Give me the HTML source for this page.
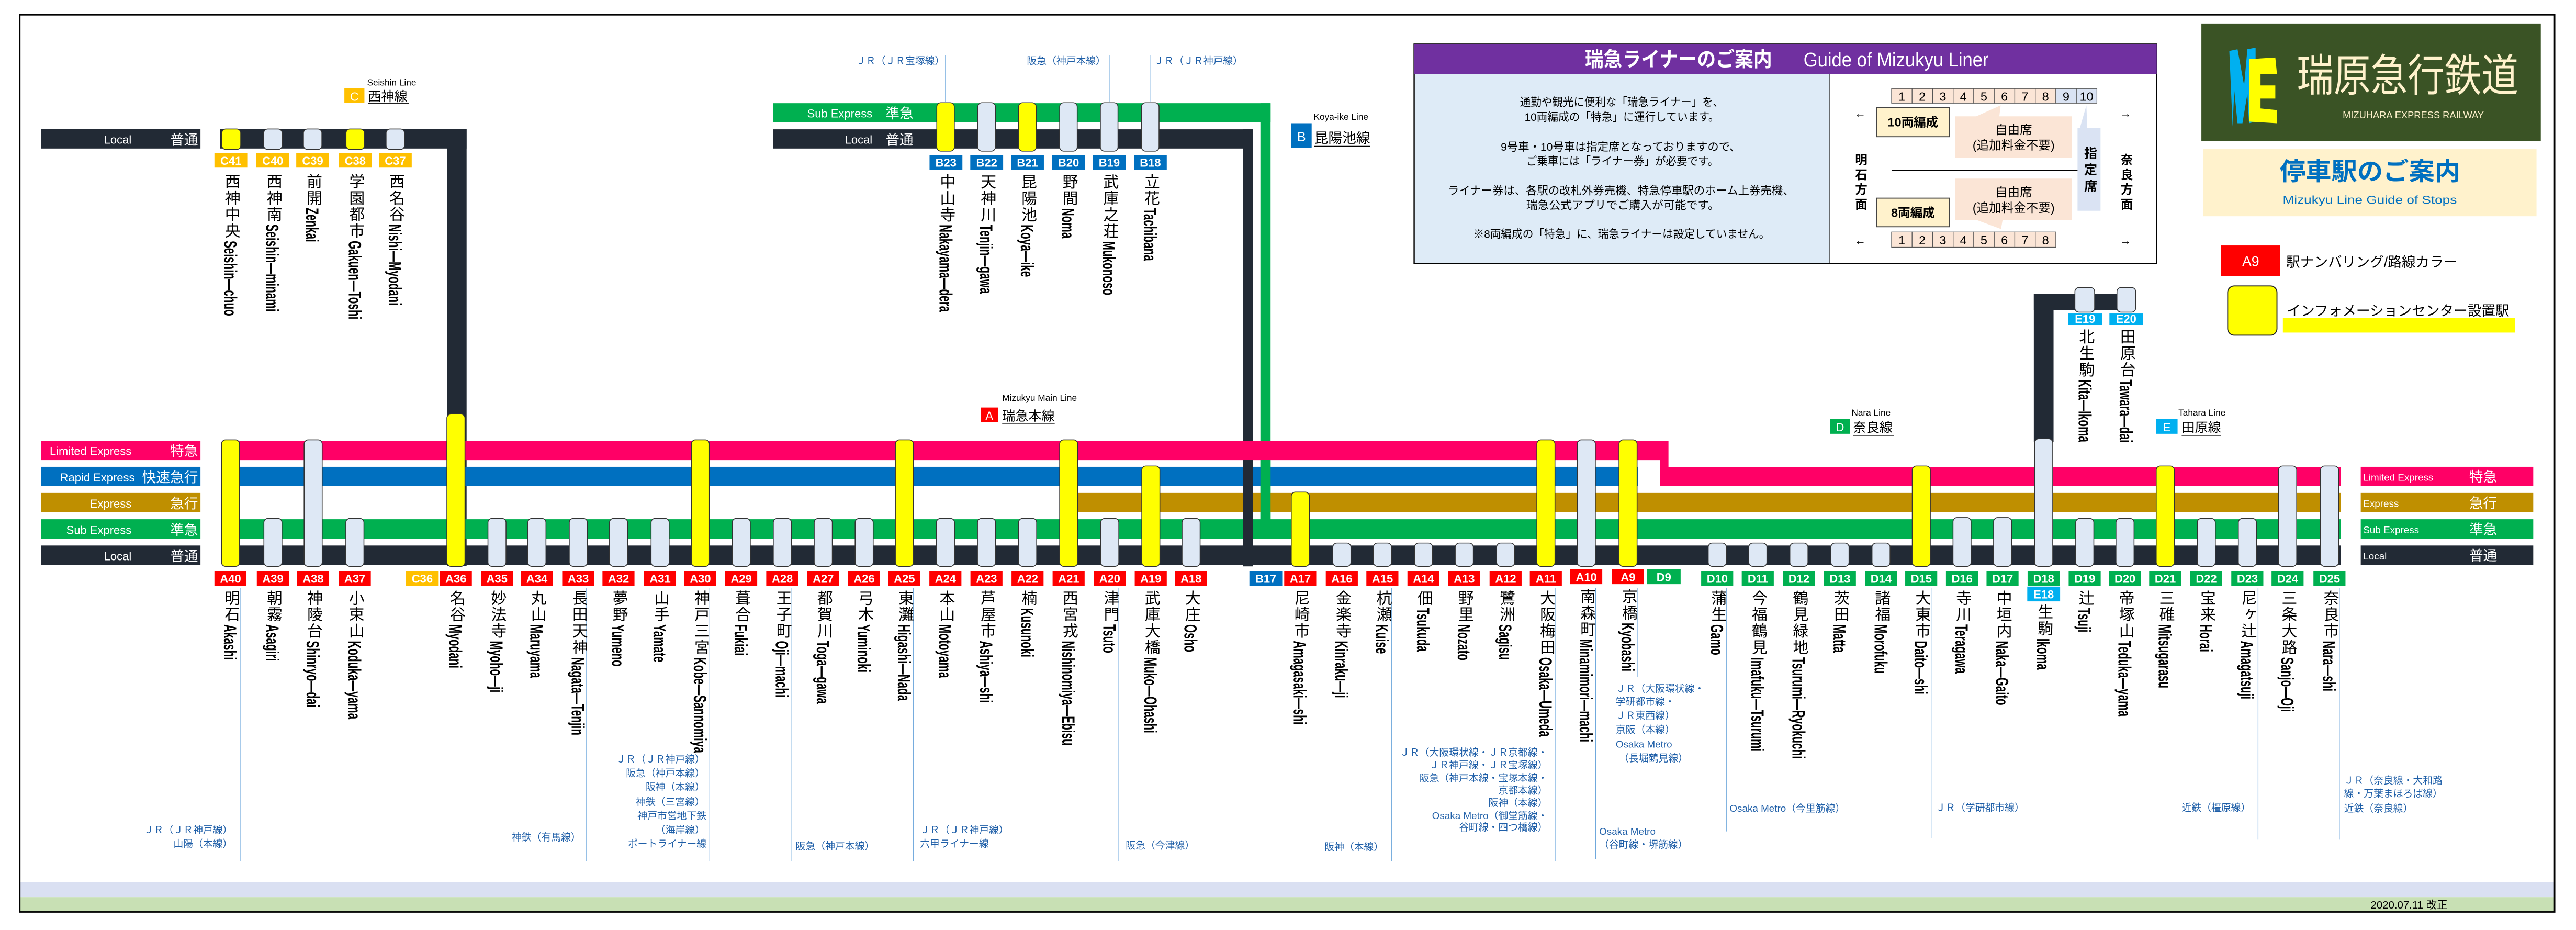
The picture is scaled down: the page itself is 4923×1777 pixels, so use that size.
<!DOCTYPE html>
<html><head><meta charset="utf-8"><style>
html,body{margin:0;padding:0;background:#fff;}
svg{display:block;}
text{font-family:"Liberation Sans","Noto Sans CJK JP",sans-serif;}
.jp{writing-mode:vertical-rl;font-size:9.5px;letter-spacing:0.5px;fill:#000;}
.en{font-size:11px;font-weight:bold;fill:#000;}
.num{font-size:7px;font-weight:bold;fill:#fff;text-anchor:middle;}
.tr{font-family:"Liberation Serif","Noto Serif CJK JP",serif;font-size:6px;fill:#1F5FA8;}
.trl{stroke:#6FA8DC;stroke-width:0.4;}
.pl{fill:#DEE8F5;stroke:#333;stroke-width:0.5;}
.py{fill:#FFFF00;stroke:#333;stroke-width:0.5;}
.lab{fill:#fff;font-size:7px;}
.labj{fill:#fff;font-size:8.5px;text-anchor:end;}
.body{font-size:6.8px;fill:#000;}
</style></head><body>
<svg width="4923" height="1777" viewBox="0 0 1568 566" xmlns="http://www.w3.org/2000/svg">
<rect x="0" y="0" width="1568" height="566" fill="#fff"/>
<!-- bottom bands -->
<rect x="12" y="537" width="1543" height="9" fill="#DAE0F2"/>
<rect x="12" y="546" width="1543" height="9" fill="#C8E0B4"/>
<rect x="12" y="9" width="1543" height="546" fill="none" stroke="#000" stroke-width="0.9"/>
<text x="1443" y="553" font-size="6.5" fill="#000">2020.07.11 改正</text>

<!-- ===== Seishin (C) line ===== -->
<rect x="25" y="78.6" width="97" height="11.8" fill="#222A35"/>
<text x="80" y="87.5" class="lab" text-anchor="end">Local</text>
<text x="120.5" y="88" class="labj">普通</text>
<rect x="134" y="78.6" width="150" height="11.8" fill="#222A35"/>
<rect x="272" y="78.6" width="12" height="266" fill="#222A35"/>
<text x="223.4" y="52" font-size="5.5">Seishin Line</text>
<rect x="209.6" y="53.8" width="12.2" height="8.9" fill="#FFC000"/>
<text x="215.7" y="61.3" font-size="7.5" fill="#fff" text-anchor="middle">C</text>
<text x="224" y="61.5" font-size="8">西神線</text>
<line x1="224" y1="63" x2="249" y2="63" stroke="#000" stroke-width="0.4"/>

<!-- ===== Koya-ike (B) line ===== -->
<rect x="470.7" y="62.8" width="86.9" height="11.7" fill="#00B050"/>
<text x="531" y="71.5" class="lab" text-anchor="end">Sub Express</text>
<text x="556" y="72" class="labj">準急</text>
<rect x="470.7" y="78.7" width="86.9" height="11.7" fill="#222A35"/>
<text x="531" y="87.5" class="lab" text-anchor="end">Local</text>
<text x="556" y="88" class="labj">普通</text>
<rect x="557.6" y="62.8" width="215.8" height="11.7" fill="#00B050"/>
<rect x="767.2" y="62.8" width="6.2" height="265" fill="#00B050"/>
<rect x="557.6" y="78.7" width="205.1" height="11.7" fill="#222A35"/>
<rect x="756.7" y="78.7" width="6" height="266" fill="#222A35"/>
<text x="799.6" y="73" font-size="5.5">Koya-ike Line</text>
<rect x="786" y="75" width="12.4" height="15" fill="#0070C0"/>
<text x="792.2" y="86" font-size="8" fill="#fff" text-anchor="middle">B</text>
<text x="800" y="87" font-size="8.5">昆陽池線</text>
<line x1="800" y1="89" x2="834" y2="89" stroke="#000" stroke-width="0.4"/>

<!-- ===== E line ===== -->
<rect x="1238" y="179" width="12" height="90" fill="#222A35"/>
<rect x="1238" y="179" width="61" height="9.6" fill="#222A35"/>

<!-- ===== main bands ===== -->
<rect x="25" y="268.2" width="97" height="11.8" fill="#FF0066"/>
<text x="80" y="277" class="lab" text-anchor="end">Limited Express</text>
<text x="120.5" y="277.5" class="labj">特急</text>
<rect x="25" y="284.1" width="97" height="11.8" fill="#0070C0"/>
<text x="82" y="293" class="lab" text-anchor="end">Rapid Express</text>
<text x="120.5" y="293.5" class="labj">快速急行</text>
<rect x="25" y="300" width="97" height="11.8" fill="#BF8F00"/>
<text x="80" y="309" class="lab" text-anchor="end">Express</text>
<text x="120.5" y="309.5" class="labj">急行</text>
<rect x="25" y="316" width="97" height="11.8" fill="#00B050"/>
<text x="80" y="325" class="lab" text-anchor="end">Sub Express</text>
<text x="120.5" y="325.5" class="labj">準急</text>
<rect x="25" y="332" width="97" height="11.8" fill="#222A35"/>
<text x="80" y="341" class="lab" text-anchor="end">Local</text>
<text x="120.5" y="341.5" class="labj">普通</text>

<rect x="135" y="284.1" width="862" height="11.8" fill="#0070C0"/>
<rect x="655" y="300" width="770" height="11.8" fill="#BF8F00"/>
<rect x="135" y="316" width="1290" height="11.8" fill="#00B050"/>
<rect x="135" y="332" width="1290" height="11.8" fill="#222A35"/>
<polygon points="135,268.2 1015.6,268.2 1015.6,284.1 1425,284.1 1425,295.9 1010.4,295.9 1010.4,280 135,280" fill="#FF0066"/>
<!-- B verticals over lower bands -->
<rect x="756.7" y="280" width="6" height="64" fill="#222A35"/>
<rect x="767.2" y="280" width="6.2" height="48" fill="#00B050"/>
<rect x="760" y="284.1" width="0" height="0"/>

<!-- right labels -->
<rect x="1437" y="284.1" width="105" height="11.8" fill="#FF0066"/>
<text x="1438.5" y="292.5" font-size="6" fill="#fff">Limited Express</text>
<text x="1520" y="293.2" class="labj">特急</text>
<rect x="1437" y="300" width="105" height="11.8" fill="#BF8F00"/>
<text x="1438.5" y="308.5" font-size="6" fill="#fff">Express</text>
<text x="1520" y="309.2" class="labj">急行</text>
<rect x="1437" y="316" width="105" height="11.8" fill="#00B050"/>
<text x="1438.5" y="324.5" font-size="6" fill="#fff">Sub Express</text>
<text x="1520" y="325.2" class="labj">準急</text>
<rect x="1437" y="332" width="105" height="11.8" fill="#222A35"/>
<text x="1438.5" y="340.5" font-size="6" fill="#fff">Local</text>
<text x="1520" y="341.2" class="labj">普通</text>

<!-- line labels A, D, E -->
<text x="610" y="244" font-size="5.5">Mizukyu Main Line</text>
<rect x="597" y="248" width="10.5" height="9" fill="#FF0000"/>
<text x="602.2" y="255.5" font-size="7" fill="#fff" text-anchor="middle">A</text>
<text x="610" y="256" font-size="8">瑞急本線</text>
<line x1="610" y1="258" x2="642" y2="258" stroke="#000" stroke-width="0.4"/>
<text x="1127" y="253" font-size="5.5">Nara Line</text>
<rect x="1114" y="255" width="12" height="9" fill="#00B050"/>
<text x="1120" y="262.5" font-size="7" fill="#fff" text-anchor="middle">D</text>
<text x="1128" y="263" font-size="8">奈良線</text>
<line x1="1128" y1="265" x2="1153" y2="265" stroke="#000" stroke-width="0.4"/>
<text x="1326" y="253" font-size="5.5">Tahara Line</text>
<rect x="1312.5" y="255" width="13" height="9" fill="#00B0F0"/>
<text x="1319" y="262.5" font-size="7" fill="#fff" text-anchor="middle">E</text>
<text x="1328" y="263" font-size="8">田原線</text>
<line x1="1328" y1="265" x2="1352" y2="265" stroke="#000" stroke-width="0.4"/>

<!-- ===== transfer lines ===== -->
<g class="trl">
<line x1="146.5" y1="358" x2="146.5" y2="524"/>
<line x1="357" y1="358" x2="357" y2="524"/>
<line x1="432" y1="358" x2="432" y2="524"/>
<line x1="481.5" y1="358" x2="481.5" y2="524"/>
<line x1="556" y1="358" x2="556" y2="524"/>
<line x1="681" y1="358" x2="681" y2="524"/>
<line x1="847" y1="358" x2="847" y2="524"/>
<line x1="946.6" y1="358" x2="946.6" y2="524"/>
<line x1="971.3" y1="358" x2="971.3" y2="523"/>
<line x1="996.6" y1="358" x2="996.6" y2="412"/>
<line x1="1051" y1="358" x2="1051" y2="506"/>
<line x1="1175.5" y1="358" x2="1175.5" y2="510"/>
<line x1="1374.5" y1="358" x2="1374.5" y2="511"/>
<line x1="1424" y1="358" x2="1424" y2="511"/>
<line x1="575.5" y1="33.5" x2="575.5" y2="62"/>
<line x1="675.2" y1="33.5" x2="675.2" y2="62"/>
<line x1="700" y1="33.5" x2="700" y2="62"/>
</g>

<!-- ===== transfer texts ===== -->
<g class="tr">
<text x="575" y="39" text-anchor="end">ＪＲ（ＪＲ宝塚線）</text>
<text x="673" y="39" text-anchor="end">阪急（神戸本線）</text>
<text x="702.5" y="39">ＪＲ（ＪＲ神戸線）</text>
<text x="141.5" y="507" text-anchor="end">ＪＲ（ＪＲ神戸線）</text>
<text x="141.5" y="515.5" text-anchor="end">山陽（本線）</text>
<text x="353.5" y="511.5" text-anchor="end">神鉄（有馬線）</text>
<g text-anchor="end">
<text x="429" y="464">ＪＲ（ＪＲ神戸線）</text>
<text x="429" y="472.5">阪急（神戸本線）</text>
<text x="429" y="481">阪神（本線）</text>
<text x="429" y="490">神鉄（三宮線）</text>
<text x="430" y="498.5">神戸市営地下鉄</text>
<text x="429" y="507">（海岸線）</text>
<text x="430" y="515.5">ポートライナー線</text>
</g>
<text x="484.3" y="517">阪急（神戸本線）</text>
<text x="560" y="507">ＪＲ（ＪＲ神戸線）</text>
<text x="560" y="515.5">六甲ライナー線</text>
<text x="685.2" y="516.5">阪急（今津線）</text>
<text x="842.2" y="517.5" text-anchor="end">阪神（本線）</text>
<g text-anchor="end">
<text x="942" y="460">ＪＲ（大阪環状線・ＪＲ京都線・</text>
<text x="942" y="467.5">ＪＲ神戸線・ＪＲ宝塚線）</text>
<text x="942" y="475.5">阪急（神戸本線・宝塚本線・</text>
<text x="942" y="483">京都本線）</text>
<text x="942" y="490.5">阪神（本線）</text>
<text x="942" y="498.5">Osaka Metro（御堂筋線・</text>
<text x="942" y="505.5">谷町線・四つ橋線）</text>
</g>
<text x="973.4" y="508">Osaka Metro</text>
<text x="973.4" y="516">（谷町線・堺筋線）</text>
<text x="983.5" y="421">ＪＲ（大阪環状線・</text>
<text x="983.5" y="429">学研都市線・</text>
<text x="983.5" y="437.5">ＪＲ東西線）</text>
<text x="983.5" y="446">京阪（本線）</text>
<text x="983.5" y="455">Osaka Metro</text>
<text x="985.5" y="463.5">（長堀鶴見線）</text>
<text x="1052.8" y="494">Osaka Metro（今里筋線）</text>
<text x="1178.3" y="493.5">ＪＲ（学研都市線）</text>
<text x="1370" y="493.5" text-anchor="end">近鉄（橿原線）</text>
<text x="1426.8" y="477">ＪＲ（奈良線・大和路</text>
<text x="1426.8" y="485">線・万葉まほろば線）</text>
<text x="1426.8" y="494">近鉄（奈良線）</text>
</g>

<!-- ===== pills ===== -->
<!-- C line -->
<rect class="py" x="135" y="78.5" width="11.5" height="12.5" rx="2.5"/>
<rect class="pl" x="160.5" y="78.5" width="11.2" height="12.5" rx="2.5"/>
<rect class="pl" x="184.7" y="78.5" width="11.2" height="12.5" rx="2.5"/>
<rect class="py" x="210.6" y="78.5" width="11.2" height="12.5" rx="2.5"/>
<rect class="pl" x="235" y="78.5" width="11.2" height="12.5" rx="2.5"/>
<!-- B line -->
<rect class="py" x="570.2" y="62.5" width="10.7" height="29.5" rx="2.5"/>
<rect class="pl" x="595.2" y="62.5" width="10.7" height="29.5" rx="2.5"/>
<rect class="py" x="620" y="62.5" width="10.7" height="29.5" rx="2.5"/>
<rect class="pl" x="645" y="62.5" width="10.7" height="29.5" rx="2.5"/>
<rect class="pl" x="669.8" y="62.5" width="10.7" height="29.5" rx="2.5"/>
<rect class="pl" x="694.8" y="62.5" width="10.7" height="29.5" rx="2.5"/>
<!-- E line -->
<rect class="pl" x="1263" y="175" width="12" height="15" rx="2.5"/>
<rect class="pl" x="1288.6" y="175" width="11.4" height="15" rx="2.5"/>
<!-- main -->
<rect class="py" x="134.8" y="267.7" width="11" height="77" rx="2.5"/>
<rect class="pl" x="160.6" y="315.5" width="11" height="29.2" rx="2.5"/>
<rect class="pl" x="185.1" y="267.7" width="11" height="77" rx="2.5"/>
<rect class="pl" x="210.5" y="315.5" width="11" height="29.2" rx="2.5"/>
<rect class="py" x="272" y="252" width="11" height="92.7" rx="2.5"/>
<rect class="pl" x="297" y="315.5" width="11" height="29.2" rx="2.5"/>
<rect class="pl" x="321.3" y="315.5" width="11" height="29.2" rx="2.5"/>
<rect class="pl" x="346.5" y="315.5" width="11" height="29.2" rx="2.5"/>
<rect class="pl" x="371" y="315.5" width="11" height="29.2" rx="2.5"/>
<rect class="pl" x="396.3" y="315.5" width="11" height="29.2" rx="2.5"/>
<rect class="py" x="420.8" y="267.7" width="11" height="77" rx="2.5"/>
<rect class="pl" x="445.7" y="315.5" width="11" height="29.2" rx="2.5"/>
<rect class="pl" x="470.7" y="315.5" width="11" height="29.2" rx="2.5"/>
<rect class="pl" x="495.6" y="315.5" width="11" height="29.2" rx="2.5"/>
<rect class="pl" x="520.5" y="315.5" width="11" height="29.2" rx="2.5"/>
<rect class="py" x="545" y="267.7" width="11" height="77" rx="2.5"/>
<rect class="pl" x="570" y="315.5" width="11" height="29.2" rx="2.5"/>
<rect class="pl" x="595" y="315.5" width="11" height="29.2" rx="2.5"/>
<rect class="pl" x="620" y="315.5" width="11" height="29.2" rx="2.5"/>
<rect class="py" x="645" y="267.7" width="11" height="77" rx="2.5"/>
<rect class="pl" x="670" y="315.5" width="11" height="29.2" rx="2.5"/>
<rect class="py" x="695" y="283.6" width="11" height="61.1" rx="2.5"/>
<rect class="pl" x="719.5" y="315.5" width="11" height="29.2" rx="2.5"/>
<rect class="py" x="786" y="299.5" width="11" height="45.2" rx="2.5"/>
<rect class="pl" x="811.3" y="330.5" width="11" height="14.2" rx="2.5"/>
<rect class="pl" x="836" y="330.5" width="11" height="14.2" rx="2.5"/>
<rect class="pl" x="861" y="330.5" width="11" height="14.2" rx="2.5"/>
<rect class="pl" x="885.8" y="330.5" width="11" height="14.2" rx="2.5"/>
<rect class="pl" x="911" y="330.5" width="11" height="14.2" rx="2.5"/>
<rect class="py" x="935.5" y="267.7" width="11" height="77" rx="2.5"/>
<rect class="pl" x="960.1" y="267.7" width="11" height="77" rx="2.5"/>
<rect class="py" x="985.5" y="267.7" width="11" height="77" rx="2.5"/>
<rect class="pl" x="1039.8" y="330.5" width="11" height="14.2" rx="2.5"/>
<rect class="pl" x="1064.5" y="330.5" width="11" height="14.2" rx="2.5"/>
<rect class="pl" x="1089.5" y="330.5" width="11" height="14.2" rx="2.5"/>
<rect class="pl" x="1114.5" y="330.5" width="11" height="14.2" rx="2.5"/>
<rect class="pl" x="1139.5" y="330.5" width="11" height="14.2" rx="2.5"/>
<rect class="py" x="1164" y="283.6" width="11" height="61.1" rx="2.5"/>
<rect class="pl" x="1188.8" y="315" width="11" height="29.7" rx="2.5"/>
<rect class="pl" x="1213.5" y="315" width="11" height="29.7" rx="2.5"/>
<rect class="pl" x="1238.5" y="267" width="11" height="77.7" rx="2.5"/>
<rect class="pl" x="1263.5" y="315.5" width="11" height="29.2" rx="2.5"/>
<rect class="pl" x="1288" y="315.5" width="11" height="29.2" rx="2.5"/>
<rect class="py" x="1312.5" y="283.6" width="11" height="61.1" rx="2.5"/>
<rect class="pl" x="1337.5" y="315.5" width="11" height="29.2" rx="2.5"/>
<rect class="pl" x="1362.5" y="315.5" width="11" height="29.2" rx="2.5"/>
<rect class="pl" x="1387" y="283.6" width="11" height="61.1" rx="2.5"/>
<rect class="pl" x="1412.5" y="283.6" width="11" height="61.1" rx="2.5"/>

<!-- ===== number boxes ===== -->
<g>
<!-- C -->
<rect x="130.5" y="93.3" width="20" height="8.7" fill="#FFC000"/><text class="num" x="140.5" y="100.3">C41</text>
<rect x="156" y="93.3" width="20" height="8.7" fill="#FFC000"/><text class="num" x="166" y="100.3">C40</text>
<rect x="180.3" y="93.3" width="20" height="8.7" fill="#FFC000"/><text class="num" x="190.3" y="100.3">C39</text>
<rect x="206.2" y="93.3" width="20" height="8.7" fill="#FFC000"/><text class="num" x="216.2" y="100.3">C38</text>
<rect x="230.6" y="93.3" width="20" height="8.7" fill="#FFC000"/><text class="num" x="240.6" y="100.3">C37</text>
<!-- B -->
<rect x="565.8" y="94.3" width="20" height="8.9" fill="#0070C0"/><text class="num" x="575.8" y="101.5">B23</text>
<rect x="590.6" y="94.3" width="20" height="8.9" fill="#0070C0"/><text class="num" x="600.6" y="101.5">B22</text>
<rect x="615.4" y="94.3" width="20" height="8.9" fill="#0070C0"/><text class="num" x="625.4" y="101.5">B21</text>
<rect x="640.4" y="94.3" width="20" height="8.9" fill="#0070C0"/><text class="num" x="650.4" y="101.5">B20</text>
<rect x="665.2" y="94.3" width="20" height="8.9" fill="#0070C0"/><text class="num" x="675.2" y="101.5">B19</text>
<rect x="690.2" y="94.3" width="20" height="8.9" fill="#0070C0"/><text class="num" x="700.2" y="101.5">B18</text>
<!-- E -->
<rect x="1259" y="190.8" width="20.5" height="7" fill="#00B0F0"/><text class="num" x="1269.2" y="196.6" font-size="6">E19</text>
<rect x="1284" y="190.8" width="20.5" height="7" fill="#00B0F0"/><text class="num" x="1294.2" y="196.6" font-size="6">E20</text>
<rect x="1234" y="357" width="20" height="9" fill="#00B0F0"/><text class="num" x="1244" y="364.3">E18</text>
</g>
<g>
<rect x="130.5" y="347.5" width="19.5" height="9" fill="#FF0000"/><text class="num" x="140.3" y="354.7">A40</text>
<rect x="156.3" y="347.5" width="19.5" height="9" fill="#FF0000"/><text class="num" x="166.1" y="354.7">A39</text>
<rect x="180.8" y="347.5" width="19.5" height="9" fill="#FF0000"/><text class="num" x="190.6" y="354.7">A38</text>
<rect x="206.2" y="347.5" width="19.5" height="9" fill="#FF0000"/><text class="num" x="216" y="354.7">A37</text>
<rect x="247" y="347.5" width="20" height="9" fill="#FFC000"/><text class="num" x="257" y="354.7">C36</text>
<rect x="267.7" y="347.5" width="19.5" height="9" fill="#FF0000"/><text class="num" x="277.5" y="354.7">A36</text>
<rect x="292.7" y="347.5" width="19.5" height="9" fill="#FF0000"/><text class="num" x="302.5" y="354.7">A35</text>
<rect x="317" y="347.5" width="19.5" height="9" fill="#FF0000"/><text class="num" x="326.8" y="354.7">A34</text>
<rect x="342.2" y="347.5" width="19.5" height="9" fill="#FF0000"/><text class="num" x="352" y="354.7">A33</text>
<rect x="366.7" y="347.5" width="19.5" height="9" fill="#FF0000"/><text class="num" x="376.5" y="354.7">A32</text>
<rect x="392" y="347.5" width="19.5" height="9" fill="#FF0000"/><text class="num" x="401.8" y="354.7">A31</text>
<rect x="416.5" y="347.5" width="19.5" height="9" fill="#FF0000"/><text class="num" x="426.3" y="354.7">A30</text>
<rect x="441.4" y="347.5" width="19.5" height="9" fill="#FF0000"/><text class="num" x="451.2" y="354.7">A29</text>
<rect x="466.4" y="347.5" width="19.5" height="9" fill="#FF0000"/><text class="num" x="476.2" y="354.7">A28</text>
<rect x="491.3" y="347.5" width="19.5" height="9" fill="#FF0000"/><text class="num" x="501.1" y="354.7">A27</text>
<rect x="516.2" y="347.5" width="19.5" height="9" fill="#FF0000"/><text class="num" x="526" y="354.7">A26</text>
<rect x="540.7" y="347.5" width="19.5" height="9" fill="#FF0000"/><text class="num" x="550.5" y="354.7">A25</text>
<rect x="565.7" y="347.5" width="19.5" height="9" fill="#FF0000"/><text class="num" x="575.5" y="354.7">A24</text>
<rect x="590.7" y="347.5" width="19.5" height="9" fill="#FF0000"/><text class="num" x="600.5" y="354.7">A23</text>
<rect x="615.7" y="347.5" width="19.5" height="9" fill="#FF0000"/><text class="num" x="625.5" y="354.7">A22</text>
<rect x="640.7" y="347.5" width="19.5" height="9" fill="#FF0000"/><text class="num" x="650.5" y="354.7">A21</text>
<rect x="665.7" y="347.5" width="19.5" height="9" fill="#FF0000"/><text class="num" x="675.5" y="354.7">A20</text>
<rect x="690.7" y="347.5" width="19.5" height="9" fill="#FF0000"/><text class="num" x="700.5" y="354.7">A19</text>
<rect x="715.2" y="347.5" width="19.5" height="9" fill="#FF0000"/><text class="num" x="725" y="354.7">A18</text>
<rect x="760.5" y="347.5" width="20" height="9" fill="#0070C0"/><text class="num" x="770.5" y="354.7">B17</text>
<rect x="781.7" y="347.5" width="19.5" height="9" fill="#FF0000"/><text class="num" x="791.5" y="354.7">A17</text>
<rect x="807" y="347.5" width="19.5" height="9" fill="#FF0000"/><text class="num" x="816.8" y="354.7">A16</text>
<rect x="831.7" y="347.5" width="19.5" height="9" fill="#FF0000"/><text class="num" x="841.5" y="354.7">A15</text>
<rect x="856.7" y="347.5" width="19.5" height="9" fill="#FF0000"/><text class="num" x="866.5" y="354.7">A14</text>
<rect x="881.5" y="347.5" width="19.5" height="9" fill="#FF0000"/><text class="num" x="891.3" y="354.7">A13</text>
<rect x="906.7" y="347.5" width="19.5" height="9" fill="#FF0000"/><text class="num" x="916.5" y="354.7">A12</text>
<rect x="931.2" y="347.5" width="19.5" height="9" fill="#FF0000"/><text class="num" x="941" y="354.7">A11</text>
<rect x="955.8" y="346.5" width="19.5" height="9" fill="#FF0000"/><text class="num" x="965.6" y="353.7">A10</text>
<rect x="981.2" y="346.5" width="19.5" height="9" fill="#FF0000"/><text class="num" x="991" y="353.7">A9</text>
<rect x="1002.6" y="346.5" width="20.4" height="9" fill="#00B050"/><text class="num" x="1012.8" y="353.7">D9</text>
<rect x="1035.5" y="347.5" width="19.5" height="9" fill="#00B050"/><text class="num" x="1045.3" y="354.7">D10</text>
<rect x="1060.2" y="347.5" width="19.5" height="9" fill="#00B050"/><text class="num" x="1070" y="354.7">D11</text>
<rect x="1085.2" y="347.5" width="19.5" height="9" fill="#00B050"/><text class="num" x="1095" y="354.7">D12</text>
<rect x="1110.2" y="347.5" width="19.5" height="9" fill="#00B050"/><text class="num" x="1120" y="354.7">D13</text>
<rect x="1135.2" y="347.5" width="19.5" height="9" fill="#00B050"/><text class="num" x="1145" y="354.7">D14</text>
<rect x="1159.7" y="347.5" width="19.5" height="9" fill="#00B050"/><text class="num" x="1169.5" y="354.7">D15</text>
<rect x="1184.5" y="347.5" width="19.5" height="9" fill="#00B050"/><text class="num" x="1194.3" y="354.7">D16</text>
<rect x="1209.2" y="347.5" width="19.5" height="9" fill="#00B050"/><text class="num" x="1219" y="354.7">D17</text>
<rect x="1234.2" y="347.5" width="19.5" height="9" fill="#00B050"/><text class="num" x="1244" y="354.7">D18</text>
<rect x="1259.2" y="347.5" width="19.5" height="9" fill="#00B050"/><text class="num" x="1269" y="354.7">D19</text>
<rect x="1283.7" y="347.5" width="19.5" height="9" fill="#00B050"/><text class="num" x="1293.5" y="354.7">D20</text>
<rect x="1308.2" y="347.5" width="19.5" height="9" fill="#00B050"/><text class="num" x="1318" y="354.7">D21</text>
<rect x="1333.2" y="347.5" width="19.5" height="9" fill="#00B050"/><text class="num" x="1343" y="354.7">D22</text>
<rect x="1358.2" y="347.5" width="19.5" height="9" fill="#00B050"/><text class="num" x="1368" y="354.7">D23</text>
<rect x="1382.7" y="347.5" width="19.5" height="9" fill="#00B050"/><text class="num" x="1392.5" y="354.7">D24</text>
<rect x="1408.2" y="347.5" width="19.5" height="9" fill="#00B050"/><text class="num" x="1418" y="354.7">D25</text>
</g>

<!-- ===== station names ===== -->
<!-- C line -->
<text class="jp" x="140.5" y="105.5">西神中央</text><text class="en" transform="translate(136.5,146.5) rotate(90) scale(0.6,1)">Seishin—chuo</text>
<text class="jp" x="166" y="105.5">西神南</text><text class="en" transform="translate(162,136.5) rotate(90) scale(0.6,1)">Seishin—minami</text>
<text class="jp" x="190.3" y="105.5">前開</text><text class="en" transform="translate(186.3,126.5) rotate(90) scale(0.6,1)">Zenkai</text>
<text class="jp" x="216.2" y="105.5">学園都市</text><text class="en" transform="translate(212.2,146.5) rotate(90) scale(0.6,1)">Gakuen—Toshi</text>
<text class="jp" x="240.6" y="105.5">西名谷</text><text class="en" transform="translate(236.6,136.5) rotate(90) scale(0.6,1)">Nishi—Myodani</text>
<!-- B line -->
<text class="jp" x="575.8" y="105.7">中山寺</text><text class="en" transform="translate(571.8,136.7) rotate(90) scale(0.6,1)">Nakayama—dera</text>
<text class="jp" x="600.6" y="105.7">天神川</text><text class="en" transform="translate(596.6,136.7) rotate(90) scale(0.6,1)">Tenjin—gawa</text>
<text class="jp" x="625.4" y="105.7">昆陽池</text><text class="en" transform="translate(621.4,136.7) rotate(90) scale(0.6,1)">Koya—ike</text>
<text class="jp" x="650.4" y="105.7">野間</text><text class="en" transform="translate(646.4,126.7) rotate(90) scale(0.6,1)">Noma</text>
<text class="jp" x="675.2" y="105.7">武庫之荘</text><text class="en" transform="translate(671.2,146.7) rotate(90) scale(0.6,1)">Mukonoso</text>
<text class="jp" x="700.2" y="105.7">立花</text><text class="en" transform="translate(696.2,126.7) rotate(90) scale(0.6,1)">Tachibana</text>
<!-- E line -->
<text class="jp" x="1269.2" y="200">北生駒</text><text class="en" transform="translate(1265.2,231) rotate(90) scale(0.6,1)">Kita—Ikoma</text>
<text class="jp" x="1294.2" y="200">田原台</text><text class="en" transform="translate(1290.2,231) rotate(90) scale(0.6,1)">Tawara—dai</text>
<!-- main -->
<text class="jp" x="140.3" y="359">明石</text><text class="en" transform="translate(136.3,380) rotate(90) scale(0.6,1)">Akashi</text>
<text class="jp" x="166.1" y="359">朝霧</text><text class="en" transform="translate(162.1,380) rotate(90) scale(0.6,1)">Asagiri</text>
<text class="jp" x="190.6" y="359">神陵台</text><text class="en" transform="translate(186.6,390) rotate(90) scale(0.6,1)">Shinryo—dai</text>
<text class="jp" x="216" y="359">小束山</text><text class="en" transform="translate(212,390) rotate(90) scale(0.6,1)">Koduka—yama</text>
<text class="jp" x="277.5" y="359">名谷</text><text class="en" transform="translate(273.5,380) rotate(90) scale(0.6,1)">Myodani</text>
<text class="jp" x="302.5" y="359">妙法寺</text><text class="en" transform="translate(298.5,390) rotate(90) scale(0.6,1)">Myoho—ji</text>
<text class="jp" x="326.8" y="359">丸山</text><text class="en" transform="translate(322.8,380) rotate(90) scale(0.6,1)">Maruyama</text>
<text class="jp" x="352" y="359">長田天神</text><text class="en" transform="translate(348,400) rotate(90) scale(0.6,1)">Nagata—Tenjin</text>
<text class="jp" x="376.5" y="359">夢野</text><text class="en" transform="translate(372.5,380) rotate(90) scale(0.6,1)">Yumeno</text>
<text class="jp" x="401.8" y="359">山手</text><text class="en" transform="translate(397.8,380) rotate(90) scale(0.6,1)">Yamate</text>
<text class="jp" x="426.3" y="359">神戸三宮</text><text class="en" transform="translate(422.3,400) rotate(90) scale(0.6,1)">Kobe—Sannomiya</text>
<text class="jp" x="451.2" y="359">葺合</text><text class="en" transform="translate(447.2,380) rotate(90) scale(0.6,1)">Fukiai</text>
<text class="jp" x="476.2" y="359">王子町</text><text class="en" transform="translate(472.2,390) rotate(90) scale(0.6,1)">Oji—machi</text>
<text class="jp" x="501.1" y="359">都賀川</text><text class="en" transform="translate(497.1,390) rotate(90) scale(0.6,1)">Toga—gawa</text>
<text class="jp" x="526" y="359">弓木</text><text class="en" transform="translate(522,380) rotate(90) scale(0.6,1)">Yuminoki</text>
<text class="jp" x="550.5" y="359">東灘</text><text class="en" transform="translate(546.5,380) rotate(90) scale(0.6,1)">Higashi—Nada</text>
<text class="jp" x="575.5" y="359">本山</text><text class="en" transform="translate(571.5,380) rotate(90) scale(0.6,1)">Motoyama</text>
<text class="jp" x="600.5" y="359">芦屋市</text><text class="en" transform="translate(596.5,390) rotate(90) scale(0.6,1)">Ashiya—shi</text>
<text class="jp" x="625.5" y="359">楠</text><text class="en" transform="translate(621.5,370) rotate(90) scale(0.6,1)">Kusunoki</text>
<text class="jp" x="650.5" y="359">西宮戎</text><text class="en" transform="translate(646.5,390) rotate(90) scale(0.6,1)">Nishinomiya—Ebisu</text>
<text class="jp" x="675.5" y="359">津門</text><text class="en" transform="translate(671.5,380) rotate(90) scale(0.6,1)">Tsuto</text>
<text class="jp" x="700.5" y="359">武庫大橋</text><text class="en" transform="translate(696.5,400) rotate(90) scale(0.6,1)">Muko—Ohashi</text>
<text class="jp" x="725" y="359">大庄</text><text class="en" transform="translate(721,380) rotate(90) scale(0.6,1)">Osho</text>
<text class="jp" x="791.5" y="359">尼崎市</text><text class="en" transform="translate(787.5,390) rotate(90) scale(0.6,1)">Amagasaki—shi</text>
<text class="jp" x="816.8" y="359">金楽寺</text><text class="en" transform="translate(812.8,390) rotate(90) scale(0.6,1)">Kinraku—ji</text>
<text class="jp" x="841.5" y="359">杭瀬</text><text class="en" transform="translate(837.5,380) rotate(90) scale(0.6,1)">Kuise</text>
<text class="jp" x="866.5" y="359">佃</text><text class="en" transform="translate(862.5,370) rotate(90) scale(0.6,1)">Tsukuda</text>
<text class="jp" x="891.3" y="359">野里</text><text class="en" transform="translate(887.3,380) rotate(90) scale(0.6,1)">Nozato</text>
<text class="jp" x="916.5" y="359">鷺洲</text><text class="en" transform="translate(912.5,380) rotate(90) scale(0.6,1)">Sagisu</text>
<text class="jp" x="941" y="359">大阪梅田</text><text class="en" transform="translate(937,400) rotate(90) scale(0.6,1)">Osaka—Umeda</text>
<text class="jp" x="965.6" y="358">南森町</text><text class="en" transform="translate(961.6,389) rotate(90) scale(0.6,1)">Minamimori—machi</text>
<text class="jp" x="991" y="358">京橋</text><text class="en" transform="translate(987,379) rotate(90) scale(0.6,1)">Kyobashi</text>
<text class="jp" x="1045.3" y="359">蒲生</text><text class="en" transform="translate(1041.3,380) rotate(90) scale(0.6,1)">Gamo</text>
<text class="jp" x="1070" y="359">今福鶴見</text><text class="en" transform="translate(1066,400) rotate(90) scale(0.6,1)">Imafuku—Tsurumi</text>
<text class="jp" x="1095" y="359">鶴見緑地</text><text class="en" transform="translate(1091,400) rotate(90) scale(0.6,1)">Tsurumi—Ryokuchi</text>
<text class="jp" x="1120" y="359">茨田</text><text class="en" transform="translate(1116,380) rotate(90) scale(0.6,1)">Matta</text>
<text class="jp" x="1145" y="359">諸福</text><text class="en" transform="translate(1141,380) rotate(90) scale(0.6,1)">Morofuku</text>
<text class="jp" x="1169.5" y="359">大東市</text><text class="en" transform="translate(1165.5,390) rotate(90) scale(0.6,1)">Daito—shi</text>
<text class="jp" x="1194.3" y="359">寺川</text><text class="en" transform="translate(1190.3,380) rotate(90) scale(0.6,1)">Teragawa</text>
<text class="jp" x="1219" y="359">中垣内</text><text class="en" transform="translate(1215,390) rotate(90) scale(0.6,1)">Naka—Gaito</text>
<text class="jp" x="1244" y="367.5">生駒</text><text class="en" transform="translate(1240,388.5) rotate(90) scale(0.6,1)">Ikoma</text>
<text class="jp" x="1269" y="359">辻</text><text class="en" transform="translate(1265,370) rotate(90) scale(0.6,1)">Tsuji</text>
<text class="jp" x="1293.5" y="359">帝塚山</text><text class="en" transform="translate(1289.5,390) rotate(90) scale(0.6,1)">Teduka—yama</text>
<text class="jp" x="1318" y="359">三碓</text><text class="en" transform="translate(1314,380) rotate(90) scale(0.6,1)">Mitsugarasu</text>
<text class="jp" x="1343" y="359">宝来</text><text class="en" transform="translate(1339,380) rotate(90) scale(0.6,1)">Horai</text>
<text class="jp" x="1368" y="359">尼ヶ辻</text><text class="en" transform="translate(1364,390) rotate(90) scale(0.6,1)">Amagatsuji</text>
<text class="jp" x="1392.5" y="359">三条大路</text><text class="en" transform="translate(1388.5,400) rotate(90) scale(0.6,1)">Sanjo—Oji</text>
<text class="jp" x="1418" y="359">奈良市</text><text class="en" transform="translate(1414,390) rotate(90) scale(0.6,1)">Nara—shi</text>

<!-- ===== Liner guide box ===== -->
<rect x="860.8" y="26.9" width="452" height="133.4" fill="#fff" stroke="#000" stroke-width="0.8"/>
<rect x="860.8" y="26.9" width="452" height="18.2" fill="#7030A0"/>
<text x="964.7" y="40.5" font-size="12.5" font-weight="bold" fill="#fff" textLength="114" lengthAdjust="spacingAndGlyphs">瑞急ライナーのご案内</text>
<text x="1097.8" y="40.5" font-size="12" fill="#fff" textLength="112.7" lengthAdjust="spacingAndGlyphs">Guide of Mizukyu Liner</text>
<rect x="861.2" y="45.1" width="252.6" height="114.8" fill="#DEEBF7"/>
<line x1="1113.8" y1="45.1" x2="1113.8" y2="160" stroke="#333" stroke-width="0.4"/>
<g class="body">
<text x="925.2" y="64.5" textLength="124" lengthAdjust="spacingAndGlyphs">通勤や観光に便利な「瑞急ライナー」を、</text>
<text x="928" y="73.5" textLength="118.5" lengthAdjust="spacingAndGlyphs">10両編成の「特急」に運行しています。</text>
<text x="913.5" y="91.8" textLength="146" lengthAdjust="spacingAndGlyphs">9号車・10号車は指定席となっておりますので、</text>
<text x="929" y="100.5" textLength="117" lengthAdjust="spacingAndGlyphs">ご乗車には「ライナー券」が必要です。</text>
<text x="881.3" y="118.3" textLength="210.7" lengthAdjust="spacingAndGlyphs">ライナー券は、各駅の改札外券売機、特急停車駅のホーム上券売機、</text>
<text x="929" y="127.2" textLength="117.6" lengthAdjust="spacingAndGlyphs">瑞急公式アプリでご購入が可能です。</text>
<text x="896.8" y="144.8" textLength="180.5" lengthAdjust="spacingAndGlyphs">※8両編成の「特急」に、瑞急ライナーは設定していません。</text>
</g>
<!-- cars top -->
<g stroke="#555" stroke-width="0.4" font-size="7.5" text-anchor="middle">
<rect x="1151.4" y="53.9" width="12.49" height="8.9" fill="#FBE5D6"/><rect x="1163.9" y="53.9" width="12.49" height="8.9" fill="#FBE5D6"/><rect x="1176.4" y="53.9" width="12.49" height="8.9" fill="#FBE5D6"/><rect x="1188.9" y="53.9" width="12.49" height="8.9" fill="#FBE5D6"/><rect x="1201.4" y="53.9" width="12.49" height="8.9" fill="#FBE5D6"/><rect x="1213.9" y="53.9" width="12.49" height="8.9" fill="#FBE5D6"/><rect x="1226.4" y="53.9" width="12.49" height="8.9" fill="#FBE5D6"/><rect x="1238.9" y="53.9" width="12.49" height="8.9" fill="#FBE5D6"/><rect x="1251.4" y="53.9" width="12.49" height="8.9" fill="#DAE3F3"/><rect x="1263.9" y="53.9" width="12.49" height="8.9" fill="#DAE3F3"/>
<rect x="1151.4" y="141.2" width="12.49" height="9.3" fill="#FBE5D6"/><rect x="1163.9" y="141.2" width="12.49" height="9.3" fill="#FBE5D6"/><rect x="1176.4" y="141.2" width="12.49" height="9.3" fill="#FBE5D6"/><rect x="1188.9" y="141.2" width="12.49" height="9.3" fill="#FBE5D6"/><rect x="1201.4" y="141.2" width="12.49" height="9.3" fill="#FBE5D6"/><rect x="1213.9" y="141.2" width="12.49" height="9.3" fill="#FBE5D6"/><rect x="1226.4" y="141.2" width="12.49" height="9.3" fill="#FBE5D6"/><rect x="1238.9" y="141.2" width="12.49" height="9.3" fill="#FBE5D6"/>
</g>
<g font-size="7.5" text-anchor="middle" fill="#000">
<text x="1157.6" y="61.3">1</text><text x="1170.1" y="61.3">2</text><text x="1182.6" y="61.3">3</text><text x="1195.1" y="61.3">4</text><text x="1207.6" y="61.3">5</text><text x="1220.1" y="61.3">6</text><text x="1232.6" y="61.3">7</text><text x="1245.1" y="61.3">8</text><text x="1257.6" y="61.3">9</text><text x="1270.1" y="61.3">10</text>
<text x="1157.6" y="148.8">1</text><text x="1170.1" y="148.8">2</text><text x="1182.6" y="148.8">3</text><text x="1195.1" y="148.8">4</text><text x="1207.6" y="148.8">5</text><text x="1220.1" y="148.8">6</text><text x="1232.6" y="148.8">7</text><text x="1245.1" y="148.8">8</text>
</g>
<g font-size="7" text-anchor="middle">
<text x="1132.3" y="71.5">←</text><text x="1293.9" y="71.5">→</text>
<text x="1132.3" y="148.8">←</text><text x="1293.9" y="148.8">→</text>
</g>
<rect x="1142.3" y="65.4" width="44.2" height="17.8" fill="#FFF2CC" stroke="#444" stroke-width="0.6"/>
<text x="1164.4" y="77" font-size="7.5" font-weight="bold" text-anchor="middle">10両編成</text>
<rect x="1142.3" y="120.6" width="44.2" height="17.4" fill="#FFF2CC" stroke="#444" stroke-width="0.6"/>
<text x="1164.4" y="132" font-size="7.5" font-weight="bold" text-anchor="middle">8両編成</text>
<polygon points="1190,70.8 1203,70.8 1217.8,64.1 1217,70.8 1261,70.8 1261,96 1190,96" fill="#FBE5D6"/>
<polygon points="1190,108.7 1261,108.7 1261,133.8 1219,133.8 1218,139.4 1203,133.8 1190,133.8" fill="#FBE5D6"/>
<g font-size="7.5" text-anchor="middle">
<text x="1225.7" y="81.5">自由席</text><text x="1225.7" y="91">(追加料金不要)</text>
<text x="1225.7" y="119.5">自由席</text><text x="1225.7" y="129">(追加料金不要)</text>
</g>
<polygon points="1264.6,78 1266,78 1270,64.1 1270.5,78 1278.6,78 1278.6,128.3 1264.6,128.3" fill="#DAE3F3"/>
<text x="1272" y="89" font-size="8" font-weight="bold" style="writing-mode:vertical-rl;letter-spacing:2px">指定席</text>
<line x1="1151.4" y1="103.6" x2="1264.6" y2="103.6" stroke="#000" stroke-width="0.5"/>
<text x="1132.3" y="93.3" font-size="7.5" font-weight="bold" style="writing-mode:vertical-rl;letter-spacing:1.5px">明石方面</text>
<text x="1294" y="93.3" font-size="7.5" font-weight="bold" style="writing-mode:vertical-rl;letter-spacing:1.5px">奈良方面</text>

<!-- ===== logo ===== -->
<rect x="1340" y="14.3" width="206.6" height="71.7" fill="#3A5325"/>
<polygon points="1357,31 1362,30 1366,52 1368,30 1373,29 1373,74 1369,75 1368,57 1365,75 1362,75 1360,55 1359,77" fill="#00B0F0"/>
<polygon points="1369,36 1385,35 1386,45 1376,45 1376,52 1385,52 1385,60 1376,60 1376,66 1386,67 1386,75 1369,74" fill="#FFFF00"/>
<text x="1398" y="55.5" font-size="27" fill="#FFF2CC" textLength="135" lengthAdjust="spacingAndGlyphs">瑞原急行鉄道</text>
<text x="1426" y="72" font-size="6" fill="#FFF2CC" textLength="86" lengthAdjust="spacingAndGlyphs">MIZUHARA EXPRESS RAILWAY</text>
<rect x="1341" y="90.8" width="203" height="40.8" fill="#FFF2CC"/>
<text x="1387.7" y="109.5" font-size="15" font-weight="bold" fill="#0070C0" textLength="110" lengthAdjust="spacingAndGlyphs">停車駅のご案内</text>
<text x="1389.5" y="124" font-size="7.2" fill="#0070C0" textLength="106" lengthAdjust="spacingAndGlyphs">Mizukyu Line Guide of Stops</text>

<!-- legend -->
<rect x="1352" y="149.4" width="36" height="18.6" fill="#FF0000"/>
<text x="1370" y="162" font-size="8.5" fill="#fff" text-anchor="middle">A9</text>
<text x="1391.6" y="162.5" font-size="8.5">駅ナンバリング/路線カラー</text>
<rect x="1389.6" y="193.6" width="141.4" height="8.8" fill="#FFFF00"/>
<rect x="1356" y="174" width="30" height="30" rx="4" fill="#FFFF00" stroke="#222" stroke-width="0.6"/>
<text x="1392" y="192" font-size="8.5">インフォメーションセンター設置駅</text>
</svg>
</body></html>
